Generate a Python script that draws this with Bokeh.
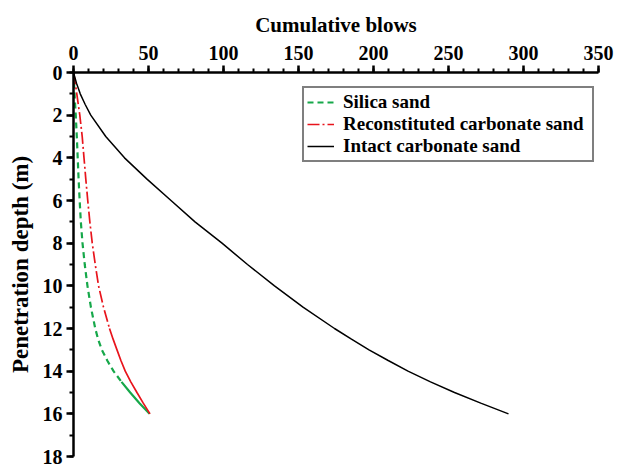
from bokeh.plotting import figure
from bokeh.models import Range1d, SingleIntervalTicker, Legend, LegendItem
from bokeh.embed import file_html
from bokeh.resources import INLINE

# Data
depth = [0, 0.5, 1, 1.5, 2, 3, 4, 5, 6, 7, 8, 9, 10, 11, 12, 12.5, 13, 13.5, 14, 14.5, 15, 15.5, 16]
silica = [0, 0.35, 0.7, 1.1, 1.5, 2.2, 2.8, 3.4, 4.1, 4.9, 6.0, 7.5, 9.3, 11.6, 14.5,
          16.4, 18.9, 22.5, 26.7, 32.0, 37.8, 44.0, 50.7]
reconstituted = [0, 1.2, 2.2, 3.2, 4.2, 5.8, 7.0, 8.2, 9.5, 10.9, 12.5, 14.5, 16.7, 20.0, 24.0,
                 26.4, 29.0, 31.6, 34.5, 38.2, 42.3, 46.5, 51.0]
intact = [0, 2.0, 4.5, 7.8, 11.5, 21.5, 34, 49, 65, 81, 99, 116, 134, 153, 174,
          185.3, 197, 209.8, 223, 238, 254, 271.5, 290]
series_names = ["Silica sand", "Reconstituted carbonate sand", "Intact carbonate sand"]
x_label = "Cumulative blows"
y_label = "Penetration depth (m)"

FONT = "Liberation Serif"
GREEN = "#16a84a"
RED = "#e8141c"

p = figure(width=626, height=466, x_axis_location="above",
           x_range=Range1d(0, 350), y_range=Range1d(18, 0),
           output_backend="svg", toolbar_location=None,
           min_border_left=73, min_border_top=72,
           min_border_right=28, min_border_bottom=10)
p.outline_line_color = None
p.grid.visible = False
p.background_fill_color = "white"
p.border_fill_color = "white"

p.xaxis.ticker = SingleIntervalTicker(interval=50, num_minor_ticks=5)
p.yaxis.ticker = SingleIntervalTicker(interval=2, num_minor_ticks=2)

for ax in (p.xaxis[0], p.yaxis[0]):
    ax.axis_line_width = 2.5
    ax.major_tick_line_width = 2.5
    ax.minor_tick_line_width = 2
    ax.major_tick_in = 0
    ax.minor_tick_in = 0
    ax.major_label_text_font = FONT
    ax.major_label_text_font_style = "bold"
    ax.major_label_text_font_size = "20px"
    ax.major_label_text_color = "black"
    ax.axis_label_text_font = FONT
    ax.axis_label_text_font_style = "bold"
    ax.axis_label_text_color = "black"

p.xaxis.major_tick_out = 7
p.xaxis.minor_tick_out = 4
p.yaxis.major_tick_out = 7
p.yaxis.minor_tick_out = 4
p.xaxis.major_label_standoff = 6
p.yaxis.major_label_standoff = 4
p.xaxis.axis_label = x_label
p.yaxis.axis_label = y_label
p.xaxis.axis_label_text_font_size = "21px"
p.yaxis.axis_label_text_font_size = "23px"
p.xaxis.axis_label_standoff = 6
p.yaxis.axis_label_standoff = 7

# Silica sand: dashed, solid near the end as in the reference
g1 = p.line(silica[:20], depth[:20], line_color=GREEN, line_width=2.2, line_dash="6 4")
p.line(silica[19:], depth[19:], line_color=GREEN, line_width=2.2)
# Reconstituted: dash-dot, solid near the end
r1 = p.line(reconstituted[:15], depth[:15], line_color=RED, line_width=1.7, line_dash="12 3 2 3")
p.line(reconstituted[14:], depth[14:], line_color=RED, line_width=1.7)
# Intact
b1 = p.line(intact, depth, line_color="black", line_width=1.5)

legend = Legend(items=[LegendItem(label=series_names[0], renderers=[g1]),
                       LegendItem(label=series_names[1], renderers=[r1]),
                       LegendItem(label=series_names[2], renderers=[b1])],
                location=(229, 294))
legend.label_text_font = FONT
legend.label_text_font_style = "bold"
legend.label_text_font_size = "19px"
legend.label_text_color = "black"
legend.glyph_width = 27
legend.glyph_height = 20
legend.label_height = 20
legend.label_width = 246
legend.label_standoff = 9
legend.spacing = 0
legend.padding = 3
legend.margin = 0
legend.border_line_color = "black"
legend.border_line_width = 2
legend.background_fill_alpha = 1
p.add_layout(legend)

open("out.html", "w").write(file_html(p, INLINE))
